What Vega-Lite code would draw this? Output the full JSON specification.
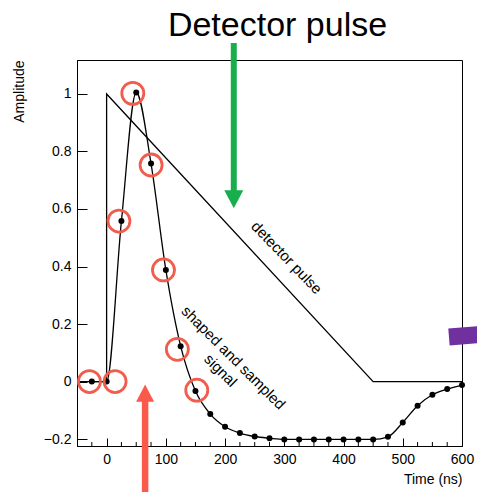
{
  "$schema": "https://vega.github.io/schema/vega-lite/v6.json",
  "width": 385,
  "height": 386,
  "autosize": {"type": "none"},
  "padding": {"left": 77, "top": 60, "right": 15, "bottom": 46},
  "background": "white",
  "title": {
    "text": "Detector pulse",
    "font": "Liberation Sans",
    "fontSize": 34,
    "fontWeight": "normal",
    "color": "black",
    "anchor": "middle",
    "frame": "group",
    "baseline": "alphabetic",
    "offset": -30,
    "dx": 8
  },
  "config": {
    "view": {"stroke": "black", "strokeWidth": 1},
    "axis": {
      "domainColor": "black",
      "tickColor": "black",
      "labelColor": "black",
      "titleColor": "black",
      "labelFont": "Liberation Sans",
      "titleFont": "Liberation Sans",
      "labelFontSize": 14,
      "titleFontSize": 14,
      "titleFontWeight": "normal",
      "grid": false
    }
  },
  "datasets": {
    "pulse": [
      {"i": 0, "t": -50, "a": 0},
      {"i": 1, "t": 0, "a": 0},
      {"i": 2, "t": 0, "a": 1},
      {"i": 3, "t": 450, "a": 0},
      {"i": 4, "t": 600, "a": 0}
    ],
    "signal": [
      {"t": -25, "a": 0},
      {"t": 0, "a": 0},
      {"t": 25, "a": 0.558},
      {"t": 50, "a": 1.005},
      {"t": 75, "a": 0.758},
      {"t": 100, "a": 0.388},
      {"t": 125, "a": 0.123},
      {"t": 150, "a": -0.033},
      {"t": 175, "a": -0.113},
      {"t": 200, "a": -0.157},
      {"t": 225, "a": -0.179},
      {"t": 250, "a": -0.191},
      {"t": 275, "a": -0.197},
      {"t": 300, "a": -0.201},
      {"t": 325, "a": -0.201},
      {"t": 350, "a": -0.201},
      {"t": 375, "a": -0.201},
      {"t": 400, "a": -0.201},
      {"t": 425, "a": -0.201},
      {"t": 450, "a": -0.201},
      {"t": 475, "a": -0.192},
      {"t": 500, "a": -0.142},
      {"t": 525, "a": -0.084},
      {"t": 550, "a": -0.046},
      {"t": 575, "a": -0.026},
      {"t": 600, "a": -0.012}
    ],
    "minorX": [
      {"t": -25}, {"t": 25}, {"t": 50}, {"t": 75}, {"t": 125}, {"t": 150}, {"t": 175},
      {"t": 225}, {"t": 250}, {"t": 275}, {"t": 325}, {"t": 350}, {"t": 375},
      {"t": 425}, {"t": 450}, {"t": 475}, {"t": 525}, {"t": 550}, {"t": 575}
    ],
    "rings": [
      {"t": -29, "a": 0},
      {"t": 14.3, "a": 0},
      {"t": 44.2, "a": 1.002},
      {"t": 75.1, "a": 0.753},
      {"t": 20.8, "a": 0.558},
      {"t": 96, "a": 0.388},
      {"t": 119.4, "a": 0.112},
      {"t": 152.2, "a": -0.03}
    ],
    "greenArrow": [{"t": 214.7, "top": 1.177, "bottom": 0.655, "head": 0.634}],
    "redArrow": [{"t": 65, "top": -0.06, "bottom": -0.42, "head": -0.04}],
    "purple": [{"t": 578, "t2": 632, "a": 0.155, "a2": 0.164}],
    "labels": [
      {"t": 304, "a": 0.431, "text": "detector pulse", "angle": 46},
      {"t": 214, "a": 0.083, "text": "shaped and sampled\nsignal", "angle": 45}
    ]
  },
  "layer": [
    {
      "data": {"name": "pulse"},
      "mark": {"type": "line", "color": "black", "strokeWidth": 1.3},
      "encoding": {
        "x": {
          "field": "t",
          "type": "quantitative",
          "scale": {"domain": [-50, 600], "nice": false, "zero": false},
          "axis": {
            "title": "Time (ns)",
            "titleAnchor": "end",
            "titleAlign": "right",
            "titlePadding": 6,
            "values": [0, 100, 200, 300, 400, 500, 600],
            "format": "d",
            "labelOverlap": false,
            "labelFlush": false,
            "tickSize": -8,
            "labelPadding": 14
          }
        },
        "y": {
          "field": "a",
          "type": "quantitative",
          "scale": {"domain": [-0.224, 1.118], "nice": false, "zero": false},
          "axis": {
            "title": "Amplitude",
            "titleAnchor": "end",
            "titleAlign": "right",
            "titlePadding": 17,
            "values": [-0.2, -0.15, -0.1, -0.05, 0, 0.05, 0.1, 0.15, 0.2, 0.25, 0.3, 0.35, 0.4, 0.45, 0.5, 0.55, 0.6, 0.65, 0.7, 0.75, 0.8, 0.85, 0.9, 0.95, 1, 1.05, 1.1],
            "labelExpr": "abs(datum.value * 5 - round(datum.value * 5)) < 0.000001 ? format(datum.value, '.1~f') : ''",
            "labelOverlap": false,
            "labelFlush": false,
            "tickSize": {"condition": {"test": "abs(datum.value * 5 - round(datum.value * 5)) < 0.000001", "value": -10}, "value": -5},
            "labelPadding": 16
          }
        },
        "order": {"field": "i", "type": "quantitative"}
      }
    },
    {
      "data": {"name": "minorX"},
      "mark": {"type": "tick", "orient": "vertical", "size": 8, "thickness": 1, "color": "black", "opacity": 1, "clip": true},
      "encoding": {
        "x": {"field": "t", "type": "quantitative"},
        "y": {"datum": -0.224, "type": "quantitative"}
      }
    },
    {
      "data": {"name": "signal"},
      "mark": {"type": "line", "color": "black", "strokeWidth": 1.3, "interpolate": "monotone"},
      "encoding": {
        "x": {"field": "t", "type": "quantitative"},
        "y": {"field": "a", "type": "quantitative"}
      }
    },
    {
      "data": {"name": "signal"},
      "mark": {"type": "point", "shape": "circle", "filled": true, "color": "black", "opacity": 1, "size": 36},
      "encoding": {
        "x": {"field": "t", "type": "quantitative"},
        "y": {"field": "a", "type": "quantitative"}
      }
    },
    {
      "data": {"name": "rings"},
      "mark": {"type": "point", "shape": "circle", "filled": false, "stroke": "#f25c4c", "strokeWidth": 2.8, "opacity": 1, "size": 484},
      "encoding": {
        "x": {"field": "t", "type": "quantitative"},
        "y": {"field": "a", "type": "quantitative"}
      }
    },
    {
      "data": {"name": "greenArrow"},
      "mark": {"type": "rule", "color": "#19ae4c", "strokeWidth": 6, "strokeCap": "butt"},
      "encoding": {
        "x": {"field": "t", "type": "quantitative"},
        "y": {"field": "top", "type": "quantitative"},
        "y2": {"field": "bottom"}
      }
    },
    {
      "data": {"name": "greenArrow"},
      "mark": {"type": "point", "shape": "M-1,-0.95L1,-0.95L0,0.95Z", "filled": true, "color": "#19ae4c", "opacity": 1, "size": 361, "strokeWidth": 0},
      "encoding": {
        "x": {"field": "t", "type": "quantitative"},
        "y": {"field": "head", "type": "quantitative"}
      }
    },
    {
      "data": {"name": "redArrow"},
      "mark": {"type": "rule", "color": "#fa5a4b", "strokeWidth": 6.5, "strokeCap": "butt"},
      "encoding": {
        "x": {"field": "t", "type": "quantitative"},
        "y": {"field": "top", "type": "quantitative"},
        "y2": {"field": "bottom"}
      }
    },
    {
      "data": {"name": "redArrow"},
      "mark": {"type": "point", "shape": "M-1,0.95L1,0.95L0,-0.95Z", "filled": true, "color": "#fa5a4b", "opacity": 1, "size": 324, "strokeWidth": 0},
      "encoding": {
        "x": {"field": "t", "type": "quantitative"},
        "y": {"field": "head", "type": "quantitative"}
      }
    },
    {
      "data": {"name": "purple"},
      "mark": {"type": "rule", "color": "#7030a0", "strokeWidth": 17, "strokeCap": "butt"},
      "encoding": {
        "x": {"field": "t", "type": "quantitative"},
        "x2": {"field": "t2"},
        "y": {"field": "a", "type": "quantitative"},
        "y2": {"field": "a2"}
      }
    },
    {
      "data": {"name": "labels"},
      "mark": {"type": "text", "font": "Liberation Sans", "fontSize": 15, "color": "black", "align": "center", "baseline": "middle", "lineBreak": "\n", "lineHeight": 18},
      "encoding": {
        "x": {"field": "t", "type": "quantitative"},
        "y": {"field": "a", "type": "quantitative"},
        "text": {"field": "text"},
        "angle": {"field": "angle", "type": "quantitative", "scale": null}
      }
    }
  ]
}
